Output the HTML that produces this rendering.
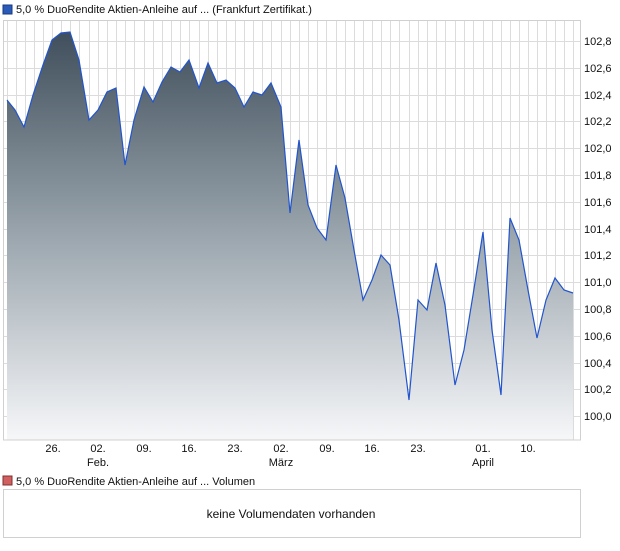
<!DOCTYPE html>
<html><head><meta charset="utf-8"><style>
body{margin:0;background:#fff;font-family:"Liberation Sans",sans-serif;}
</style></head><body>
<svg width="620" height="546" xmlns="http://www.w3.org/2000/svg" font-family="Liberation Sans, sans-serif" font-size="11">
<defs><linearGradient id="g" gradientUnits="userSpaceOnUse" x1="0" y1="30" x2="0" y2="440">
<stop offset="0" stop-color="#3f4e5b"/><stop offset="0.5" stop-color="#9aa5ad"/><stop offset="1" stop-color="#f6f7f9"/></linearGradient></defs>
<rect x="3" y="5" width="9" height="9" fill="#2a5bb8" stroke="#1a3a80" stroke-width="1"/>
<text x="16" y="13" fill="#111">5,0 % DuoRendite Aktien-Anleihe auf ... (Frankfurt Zertifikat.)</text>
<g stroke="#dcdcdc" stroke-width="1">
<path d="M7.5 20V440M16.5 20V440M25.5 20V440M34.5 20V440M43.5 20V440M52.5 20V440M61.5 20V440M70.5 20V440M79.5 20V440M89.5 20V440M98.5 20V440M107.5 20V440M116.5 20V440M125.5 20V440M134.5 20V440M144.5 20V440M153.5 20V440M162.5 20V440M171.5 20V440M180.5 20V440M189.5 20V440M199.5 20V440M208.5 20V440M217.5 20V440M226.5 20V440M235.5 20V440M244.5 20V440M253.5 20V440M262.5 20V440M271.5 20V440M281.5 20V440M290.5 20V440M299.5 20V440M308.5 20V440M317.5 20V440M326.5 20V440M336.5 20V440M345.5 20V440M354.5 20V440M363.5 20V440M372.5 20V440M381.5 20V440M390.5 20V440M399.5 20V440M409.5 20V440M418.5 20V440M427.5 20V440M436.5 20V440M445.5 20V440M455.5 20V440M464.5 20V440M473.5 20V440M483.5 20V440M492.5 20V440M501.5 20V440M510.5 20V440M519.5 20V440M528.5 20V440M537.5 20V440M546.5 20V440M555.5 20V440M564.5 20V440M573.5 20V440"/>
<path d="M3 41.5H580M3 68.5H580M3 95.5H580M3 121.5H580M3 148.5H580M3 175.5H580M3 202.5H580M3 229.5H580M3 255.5H580M3 282.5H580M3 309.5H580M3 336.5H580M3 363.5H580M3 389.5H580M3 416.5H580"/>
</g>
<path d="M7 100L15 110L24 127L33 95L43 65L52 40L61 33L70 32L79 60L89 120L98 110L107 92L116 88L125 165L134 120L144 87L153 102L162 82L171 67L180 72L189 60L199 88L208 63L217 83L226 80L235 88L244 107L253 92L262 95L271 83L281 107L290 213L299 140L308 205L317 228L326 240L336 165L345 198L354 250L363 300L372 280L381 255L390 265L399 320L409 400L418 300L427 310L436 263L445 305L455 385L464 350L473 295L483 232L492 330L501 395L510 218L519 240L528 290L537 338L546 300L555 278L564 290L573 293L573 440L7 440Z" fill="url(#g)"/>
<path d="M7 100L15 110L24 127L33 95L43 65L52 40L61 33L70 32L79 60L89 120L98 110L107 92L116 88L125 165L134 120L144 87L153 102L162 82L171 67L180 72L189 60L199 88L208 63L217 83L226 80L235 88L244 107L253 92L262 95L271 83L281 107L290 213L299 140L308 205L317 228L326 240L336 165L345 198L354 250L363 300L372 280L381 255L390 265L399 320L409 400L418 300L427 310L436 263L445 305L455 385L464 350L473 295L483 232L492 330L501 395L510 218L519 240L528 290L537 338L546 300L555 278L564 290L573 293" fill="none" stroke="#2255cc" stroke-width="1.2"/>
<rect x="3.5" y="20.5" width="577" height="419.5" fill="none" stroke="#d0d0d0"/>
<g fill="#111" font-size="11">
<text x="584" y="45">102,8</text><text x="584" y="72">102,6</text><text x="584" y="99">102,4</text><text x="584" y="125">102,2</text><text x="584" y="152">102,0</text><text x="584" y="179">101,8</text><text x="584" y="206">101,6</text><text x="584" y="233">101,4</text><text x="584" y="259">101,2</text><text x="584" y="286">101,0</text><text x="584" y="313">100,8</text><text x="584" y="340">100,6</text><text x="584" y="367">100,4</text><text x="584" y="393">100,2</text><text x="584" y="420">100,0</text>
</g>
<g fill="#111" text-anchor="middle">
<text x="53" y="452">26.</text><text x="98" y="452">02.</text><text x="144" y="452">09.</text><text x="189" y="452">16.</text><text x="235" y="452">23.</text><text x="281" y="452">02.</text><text x="327" y="452">09.</text><text x="372" y="452">16.</text><text x="418" y="452">23.</text><text x="483" y="452">01.</text><text x="528" y="452">10.</text>
<text x="98" y="466">Feb.</text><text x="281" y="466">März</text><text x="483" y="466">April</text>
</g>
<rect x="3" y="476" width="9" height="9" fill="#d06060" stroke="#803030"/>
<text x="16" y="485" fill="#111">5,0 % DuoRendite Aktien-Anleihe auf ... Volumen</text>
<rect x="3.5" y="489.5" width="577" height="48" fill="#fff" stroke="#d0d0d0"/>
<text x="291" y="518" text-anchor="middle" font-size="12" fill="#111">keine Volumendaten vorhanden</text>
</svg>
</body></html>
